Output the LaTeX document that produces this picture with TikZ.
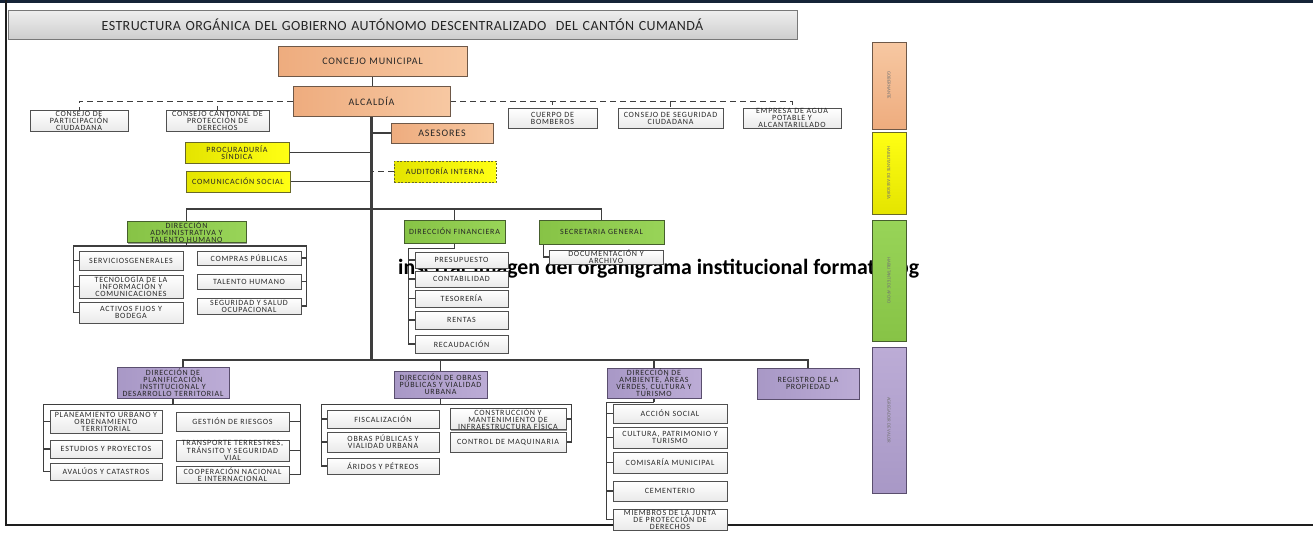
\documentclass[tikz,border=0pt]{standalone}
\usepackage{fontspec}
\setmainfont{Carlito}
\newfontfamily\spf[LetterSpace=9]{Carlito}
\newfontfamily\ttf[LetterSpace=3]{Carlito}
\usetikzlibrary{shadows}
\pgfdeclarelayer{bg}
\pgfsetlayers{bg,main}
\definecolor{orL}{RGB}{238,172,126}
\definecolor{orR}{RGB}{247,200,162}
\definecolor{orB}{RGB}{110,88,72}
\definecolor{yeL}{RGB}{228,228,0}
\definecolor{yeR}{RGB}{255,255,20}
\definecolor{yeB}{RGB}{105,105,40}
\definecolor{grL}{RGB}{135,195,70}
\definecolor{grR}{RGB}{152,212,88}
\definecolor{grB}{RGB}{70,95,45}
\definecolor{puL}{RGB}{168,152,198}
\definecolor{puR}{RGB}{188,172,214}
\definecolor{puB}{RGB}{90,78,110}
\definecolor{chBt}{RGB}{234,234,234}
\definecolor{chB}{RGB}{80,80,80}
\definecolor{lnC}{RGB}{62,62,62}
\definecolor{txC}{RGB}{40,40,40}
\definecolor{ttT}{RGB}{238,238,238}
\definecolor{ttB}{RGB}{206,206,206}
\definecolor{ttD}{RGB}{120,120,120}
\definecolor{topC}{RGB}{22,36,56}
\definecolor{frC}{RGB}{30,30,30}
\newcommand{\smallf}{\spf\fontsize{8}{7}\selectfont}
\newcommand{\obox}[7]{%
  \pgfmathsetmacro\obw{#5-#3}\pgfmathsetmacro\obh{#6-#4}%
  \pgfmathsetmacro\obcx{(#3+#5)/2}\pgfmathsetmacro\obcy{(#4+#6)/2}%
  \pgfmathsetmacro\obtw{#5-#3+20}%
  \node[#2, minimum width=\obw pt, minimum height=\obh pt, text width=\obtw pt, inner xsep=-10pt] (#1) at (\obcx,\obcy) {#7};}
\tikzset{
  base/.style={inner ysep=0pt, align=center, line width=0.9pt},
  shd/.style={drop shadow={shadow xshift=1.3pt, shadow yshift=-1.3pt, opacity=0.4, fill=black}},
  orbox/.style={base, shd, draw=orB, left color=orL, right color=orR, text=black!85, font=\spf\fontsize{10}{10}\selectfont},
  yebox/.style={base, shd, draw=yeB, left color=yeL, right color=yeR, text=black!85, font=\smallf},
  audbox/.style={base, draw=yeB, dash pattern=on 2pt off 1.5pt, left color=yeL, right color=yeR, text=black!85, font=\smallf},
  grbox/.style={base, shd, draw=grB, left color=grL, right color=grR, text=black!85, font=\smallf},
  pubox/.style={base, shd, draw=puB, left color=puL, right color=puR, text=black!85, font=\smallf},
  chbox/.style={base, shd, draw=chB, top color=white, bottom color=chBt, text=txC, font=\smallf},
  ttlbox/.style={base, draw=ttD, top color=ttT, bottom color=ttB, text=black!85, font=\ttf\fontsize{14}{15}\selectfont},
  barbox/.style={inner sep=0pt, line width=0.9pt, minimum height=34pt, rotate=-90, text=black!55, font=\fontsize{4.8}{5}\selectfont},
  ln/.style={draw=lnC, line width=1.4pt},
  spine/.style={draw=lnC, line width=2.1pt},
  dsh/.style={draw=lnC, line width=1pt, dash pattern=on 6pt off 4pt}
}
\begin{document}
\begin{tikzpicture}[x=1pt,y=-1pt]
\useasboundingbox (0,0) rectangle (1313,533);
% frame
\draw[line width=2.6pt, draw=topC] (0,1.3) -- (1313,1.3);
\draw[line width=1.6pt, draw=frC] (6,0) -- (6,525) -- (1313,525);
% title
\obox{ttl}{ttlbox}{8}{10}{797}{39}{ESTRUCTURA ORGÁNICA DEL GOBIERNO AUTÓNOMO DESCENTRALIZADO\ \ DEL CANTÓN CUMANDÁ}
% top
\obox{cm}{orbox}{278}{46}{467}{76}{CONCEJO MUNICIPAL}
\obox{alc}{orbox}{293}{86}{450}{116}{ALCALDÍA}
\obox{ase}{orbox}{391}{123}{493}{143}{ASESORES}
\obox{cp}{chbox}{30}{110}{128}{131}{CONSEJO DE\\PARTICIPACIÓN\\CIUDADANA}
\obox{cc}{chbox}{166}{110}{269}{131}{CONSEJO CANTONAL DE\\PROTECCIÓN DE\\DERECHOS}
\obox{cb}{chbox}{508}{108}{597}{128}{CUERPO DE\\BOMBEROS}
\obox{cs}{chbox}{618}{108}{723}{128}{CONSEJO DE SEGURIDAD\\CIUDADANA}
\obox{ea}{chbox}{743}{108}{841}{128}{EMPRESA DE AGUA\\POTABLE Y\\ALCANTARILLADO}
\obox{proc}{yebox}{185}{142}{289}{163}{PROCURADURÍA\\SÍNDICA}
\obox{com}{yebox}{186}{171}{290}{192}{COMUNICACIÓN SOCIAL}
\obox{aud}{audbox}{394}{161}{496}{182}{AUDITORÍA INTERNA}
% administrative
\obox{adm}{grbox}{127}{222}{246}{242}{DIRECCIÓN\\ADMINISTRATIVA Y\\TALENTO HUMANO}
\obox{sg}{chbox}{79}{251}{183}{270}{SERVICIOSGENERALES}
\obox{tic}{chbox}{79}{275}{183}{298}{TECNOLOGÍA DE LA\\INFORMACIÓN Y\\COMUNICACIONES}
\obox{af}{chbox}{79}{302}{183}{323}{ACTIVOS FIJOS Y\\BODEGA}
\obox{cpub}{chbox}{197}{251}{301}{265}{COMPRAS PÚBLICAS}
\obox{th}{chbox}{197}{274}{301}{289}{TALENTO HUMANO}
\obox{ss}{chbox}{197}{298}{301}{314}{SEGURIDAD Y SALUD\\OCUPACIONAL}
% financial
\obox{fin}{grbox}{404}{220}{505}{243}{DIRECCIÓN FINANCIERA}
\obox{pre}{chbox}{415}{252}{508}{268}{PRESUPUESTO}
\obox{con}{chbox}{415}{271}{508}{287}{CONTABILIDAD}
\obox{tes}{chbox}{415}{290}{508}{307}{TESORERÍA}
\obox{ren}{chbox}{415}{311}{508}{329}{RENTAS}
\obox{rec}{chbox}{415}{335}{508}{353}{RECAUDACIÓN}
\obox{sec}{grbox}{539}{220}{664}{244}{SECRETARIA GENERAL}
\obox{doc}{chbox}{549}{250}{663}{264}{DOCUMENTACIÓN Y\\ARCHIVO}
% planning
\obox{pla}{pubox}{117}{367}{229}{398}{DIRECCIÓN DE\\PLANIFICACIÓN\\INSTITUCIONAL Y\\DESARROLLO TERRITORIAL}
\obox{pu}{chbox}{50}{410}{162}{433}{PLANEAMIENTO URBANO Y\\ORDENAMIENTO\\TERRITORIAL}
\obox{ep}{chbox}{50}{440}{162}{458}{ESTUDIOS Y PROYECTOS}
\obox{avc}{chbox}{50}{463}{162}{480}{AVALÚOS Y CATASTROS}
\obox{gr}{chbox}{176}{412}{289}{431}{GESTIÓN DE RIESGOS}
\obox{tr}{chbox}{176}{441}{289}{460}{TRANSPORTE TERRESTRES,\\TRÁNSITO Y SEGURIDAD\\VIAL}
\obox{coop}{chbox}{176}{466}{289}{483}{COOPERACIÓN NACIONAL\\E INTERNACIONAL}
% public works
\obox{obr}{pubox}{394}{371}{487}{398}{DIRECCIÓN DE OBRAS\\PÚBLICAS Y VIALIDAD\\URBANA}
\obox{fis}{chbox}{327}{410}{439}{428}{FISCALIZACIÓN}
\obox{opv}{chbox}{327}{432}{439}{452}{OBRAS PÚBLICAS Y\\VIALIDAD URBANA}
\obox{ari}{chbox}{327}{458}{439}{474}{ÁRIDOS Y PÉTREOS}
\obox{cmi}{chbox}{450}{410}{566}{428}{CONSTRUCCIÓN Y\\MANTENIMIENTO DE\\INFRAESTRUCTURA FÍSICA}
\obox{cmq}{chbox}{450}{432}{566}{452}{CONTROL DE MAQUINARIA}
% environment
\obox{amb}{pubox}{607}{368}{701}{398}{DIRECCIÓN DE\\AMBIENTE, ÁREAS\\VERDES, CULTURA Y\\TURISMO}
\obox{reg}{pubox}{757}{368}{859}{399}{REGISTRO DE LA\\PROPIEDAD}
\obox{acs}{chbox}{613}{404}{727}{423}{ACCIÓN SOCIAL}
\obox{cul}{chbox}{613}{427}{727}{448}{CULTURA, PATRIMONIO Y\\TURISMO}
\obox{comi}{chbox}{613}{452}{727}{473}{COMISARÍA MUNICIPAL}
\obox{cem}{chbox}{613}{481}{727}{501}{CEMENTERIO}
\obox{mie}{chbox}{613}{509}{727}{530}{MIEMBROS DE LA JUNTA\\DE PROTECCIÓN DE\\DERECHOS}
% side bars
\node[barbox, draw=orB, bottom color=orL, top color=orR, minimum width=87pt] (b1) at (889,85.5) {GOBERNANTE};
\node[barbox, draw=yeB, bottom color=yeL, top color=yeR, minimum width=82pt] (b2) at (889,173) {HABILITANTE DE ASESORÍA};
\node[barbox, draw=grB, bottom color=grL, top color=grR, minimum width=121pt] (b3) at (889,280.5) {HABILITANTE DE APOYO};
\node[barbox, draw=puB, bottom color=puL, top color=puR, minimum width=146pt] (b4) at (889,420) {AGREGADOR DE VALOR};
% connectors
\begin{pgfonlayer}{bg}
\coordinate (bus1) at (372,209);
\coordinate (bus2) at (372,360);
\draw[ln] (cm.south) -- (cm.south |- alc.north);
\draw[spine] (alc.south) -- (alc.south |- bus2);
\draw[ln] (ase.west) -- (ase.west -| alc.south);
\draw[ln] (proc.east) -- (proc.east -| alc.south);
\draw[ln] (com.east) -- (com.east -| alc.south);
\draw[dsh] (aud.west) -- (aud.west -| alc.south);
\draw[dsh] (alc.west) -| (cp.north);
\draw[dsh] (alc.west) -| (cc.north);
\draw[dsh] (alc.east) -| (cb.north);
\draw[dsh] (alc.east) -| (cs.north);
\draw[dsh] (alc.east) -| (ea.north);
\draw[ln] (adm.north) |- (bus1);
\draw[ln] (fin.north) |- (bus1);
\draw[ln] (sec.north) |- (bus1);
\draw[ln] (adm.south) -- ++(0,3) coordinate (admJ);
\foreach \c in {sg,tic,af} \draw[ln] (\c.west) -- ++(-5,0) |- (admJ);
\foreach \c in {cpub,th,ss} \draw[ln] (\c.east) -- ++(5,0) |- (admJ);
\draw[ln] (fin.south) -- ++(0,5) coordinate (finJ);
\foreach \c in {pre,con,tes,ren,rec} \draw[ln] (\c.west) -- ++(-6,0) |- (finJ);
\draw[ln] (doc.west) -| ([xshift=5pt]sec.south west);
\draw[ln] ([xshift=10pt]pla.north) |- (bus2);
\draw[ln] (obr.north) |- (bus2);
\draw[ln] (amb.north) |- (bus2);
\draw[ln] (reg.north) |- (bus2);
\draw[ln] (pla.south) -- ++(0,6) coordinate (plaJ);
\foreach \c in {pu,ep,avc} \draw[ln] (\c.west) -- ++(-6,0) |- (plaJ);
\foreach \c in {gr,tr,coop} \draw[ln] (\c.east) -- ++(11,0) |- (plaJ);
\draw[ln] (obr.south) -- ++(0,6) coordinate (obrJ);
\foreach \c in {fis,opv,ari} \draw[ln] (\c.west) -- ++(-5,0) |- (obrJ);
\foreach \c in {cmi,cmq} \draw[ln] (\c.east) -- ++(5,0) |- (obrJ);
\draw[ln] (amb.south) -- ++(0,4) coordinate (ambJ);
\foreach \c in {acs,cul,comi,cem,mie} \draw[ln] (\c.west) -- ++(-6,0) |- (ambJ);
\node[anchor=base west, inner sep=0pt, font=\bfseries\fontsize{21.8}{24}\selectfont] (ovl) at (398,274) {insertar imagen del organigrama institucional formato jpg};
\end{pgfonlayer}
\end{tikzpicture}
\end{document}
